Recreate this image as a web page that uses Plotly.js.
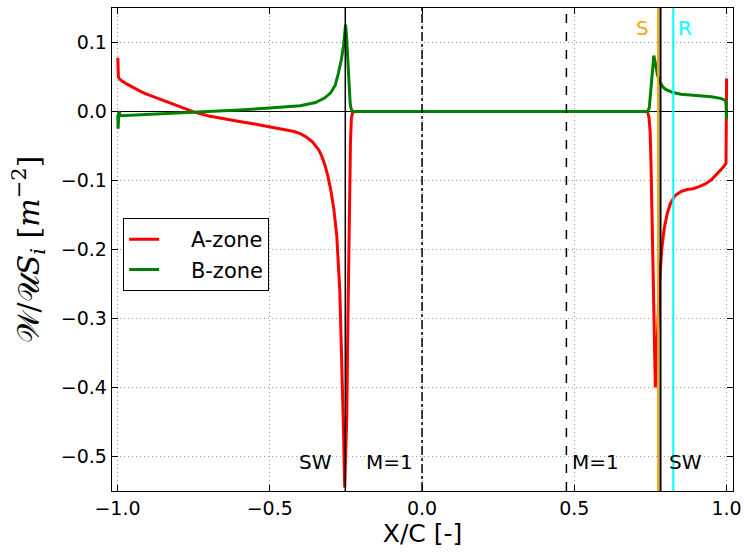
<!DOCTYPE html>
<html>
<head>
<meta charset="utf-8">
<script src="https://cdn.plot.ly/plotly-3.0.1.min.js"></script>
<style>
  html, body { margin: 0; padding: 0; background: #fff; }
  #chart { width: 744px; height: 554px; }
</style>
</head>
<body>
<div id="chart"></div>
<script>
// Chordwise distribution, A-zone
const xA = [-0.999, -0.998, -0.997, -0.993, -0.985, -0.97, -0.95, -0.92, -0.90, -0.85, -0.80, -0.75,
  -0.70, -0.65, -0.60, -0.55, -0.50, -0.45, -0.42, -0.40, -0.38, -0.36, -0.34, -0.33, -0.32, -0.31,
  -0.30, -0.29, -0.28, -0.27, -0.264, -0.258, -0.254, -0.250, -0.247, -0.244, -0.241,
  -0.238, -0.235, -0.232, -0.228, -0.22, 0.0, 0.5, 0.74, 0.745, 0.749, 0.752, 0.755,
  0.758, 0.761, 0.764, 0.766, 0.769, 0.772, 0.776, 0.780, 0.787, 0.795, 0.805, 0.815,
  0.830, 0.85, 0.87, 0.89, 0.91, 0.93, 0.95, 0.97, 0.99, 0.998, 0.999, 1.0];
const yA = [0.078, 0.062, 0.050, 0.047, 0.044, 0.040, 0.035, 0.028, 0.0245, 0.016, 0.0075, -0.0005,
  -0.0065, -0.011, -0.0145, -0.018, -0.022, -0.026, -0.029, -0.032, -0.037, -0.044, -0.055, -0.064, -0.076, -0.092,
  -0.113, -0.140, -0.180, -0.26, -0.35, -0.46, -0.545, -0.50, -0.44, -0.32, -0.20,
  -0.10, -0.045, -0.01, -0.001, 0.0, 0.0, 0.0, 0.0, -0.008, -0.03, -0.08, -0.16,
  -0.25, -0.33, -0.39, -0.40, -0.37, -0.33, -0.29, -0.245, -0.20, -0.17, -0.148, -0.134,
  -0.122, -0.116, -0.113, -0.112, -0.109, -0.105, -0.099, -0.09, -0.08, -0.075, 0.0, 0.048];

// Chordwise distribution, B-zone
const xB = [-0.999, -0.998, -0.997, -0.996, -0.994, -0.99, -0.98, -0.90, -0.80, -0.75,
  -0.60, -0.50, -0.45, -0.40, -0.35, -0.32, -0.30, -0.285, -0.275, -0.265, -0.258,
  -0.254, -0.251, -0.248, -0.245, -0.242, -0.239, -0.236, -0.233, -0.229, -0.22, 0.74,
  0.746, 0.750, 0.754, 0.758, 0.761, 0.764, 0.768, 0.773, 0.78, 0.79, 0.80, 0.82,
  0.85, 0.90, 0.95, 0.98, 0.997, 0.999, 1.0];
const yB = [-0.005, -0.025, -0.015, -0.001, -0.001, -0.006, -0.0058, -0.0045, -0.002, -0.0005,
  0.002, 0.005, 0.0065, 0.0085, 0.013, 0.0195, 0.027, 0.038, 0.055, 0.075, 0.095,
  0.115, 0.126, 0.11, 0.08, 0.055, 0.03, 0.012, 0.004, 0.0005, 0.0, 0.0,
  0.005, 0.025, 0.055, 0.075, 0.081, 0.075, 0.063, 0.053, 0.043, 0.036, 0.032, 0.028,
  0.025, 0.023, 0.0215, 0.019, 0.016, 0.005, -0.011];

const seriesNames = ['A-zone', 'B-zone'];

// Reference stations along the chord
const shockLE = -0.252;   // leading shock
const sonicA = 0.0;       // M=1 (dash-dot)
const sonicB = 0.474;     // M=1 (dashed)
const sepX = 0.775;       // S
const shockTE = 0.783;    // trailing shock
const reattX = 0.825;     // R

const xTicks = [-1.0, -0.5, 0.0, 0.5, 1.0];
const xTickText = ['\u22121.0', '\u22120.5', '0.0', '0.5', '1.0'];
const yTicks = [0.1, 0.0, -0.1, -0.2, -0.3, -0.4, -0.5];
const yTickText = ['0.1', '0.0', '\u22120.1', '\u22120.2', '\u22120.3', '\u22120.4', '\u22120.5'];

const FONT = 'DejaVu Sans, sans-serif';
const PAD = '\u00a0\u00a0\u00a0\u00a0';  // gap between legend line and label

const traces = [
  { x: xA, y: yA, name: PAD + seriesNames[0], mode: 'lines', legendgroup: 'a',
    line: { color: '#ff0000', width: 3 } },
  { x: xB, y: yB, name: PAD + seriesNames[1], mode: 'lines', legendgroup: 'b',
    line: { color: '#008000', width: 3 } }
];

function vline(x, color, dash, width) {
  return { type: 'line', xref: 'x', yref: 'paper', x0: x, x1: x, y0: 0, y1: 1,
    layer: 'above', line: { color: color, width: width, dash: dash } };
}

const axisCommon = {
  showline: true, linecolor: '#000', linewidth: 1.3, mirror: 'ticks',
  ticks: 'inside', ticklen: 6, tickwidth: 1, tickcolor: '#000',
  showgrid: true, gridcolor: '#9a9a9a', griddash: '1px,3px', gridwidth: 1,
  tickfont: { family: FONT, size: 19, color: '#000' }
};

const layout = {
  width: 744, height: 554,
  margin: { l: 112, r: 11, t: 8, b: 63 },
  paper_bgcolor: '#fff', plot_bgcolor: '#fff',
  showlegend: true,
  legend: {
    x: 0.018, y: 0.565, xanchor: 'left', yanchor: 'top',
    bgcolor: '#fff', bordercolor: '#000', borderwidth: 1,
    font: { family: FONT, size: 21, color: '#000' },
    tracegroupgap: 0, traceorder: 'grouped'
  },
  xaxis: Object.assign({}, axisCommon, {
    range: [-1.018, 1.021], tickvals: xTicks, ticktext: xTickText, zeroline: false,
    title: { text: 'X/C [-]', font: { family: FONT, size: 25, color: '#000' }, standoff: 4 }
  }),
  yaxis: Object.assign({}, axisCommon, {
    range: [-0.55, 0.15], tickvals: yTicks, ticktext: yTickText,
    zeroline: true, zerolinecolor: '#000', zerolinewidth: 1,
    title: { text: '\uD835\uDCB2/\uD835\uDCB0<i>S<sub>i</sub></i> [<i>m</i><sup>\u22122</sup>]',
      font: { family: 'DejaVu Serif, serif', size: 30, color: '#000' }, standoff: 12 }
  }),
  shapes: [
    vline(shockLE, '#000', 'solid', 1.5),
    vline(sonicA, '#000', 'dashdot', 1.5),
    vline(sonicB, '#000', 'dash', 1.5),
    vline(sepX, '#ffa500', 'solid', 2),
    vline(shockTE, '#000', 'solid', 2),
    vline(reattX, '#00ffff', 'solid', 2)
  ],
  annotations: [
    { x: -0.351, y: -0.508, text: 'SW', showarrow: false, font: { family: FONT, size: 20, color: '#000' } },
    { x: -0.108, y: -0.508, text: 'M=1', showarrow: false, font: { family: FONT, size: 20, color: '#000' } },
    { x: 0.571, y: -0.508, text: 'M=1', showarrow: false, font: { family: FONT, size: 20, color: '#000' } },
    { x: 0.866, y: -0.508, text: 'SW', showarrow: false, font: { family: FONT, size: 20, color: '#000' } },
    { x: 0.725, y: 0.121, text: 'S', showarrow: false, font: { family: FONT, size: 20, color: '#ffa500' } },
    { x: 0.862, y: 0.121, text: 'R', showarrow: false, font: { family: FONT, size: 20, color: '#00ffff' } }
  ]
};

Plotly.newPlot('chart', traces, layout, { staticPlot: true, displayModeBar: false });
</script>
</body>
</html>
